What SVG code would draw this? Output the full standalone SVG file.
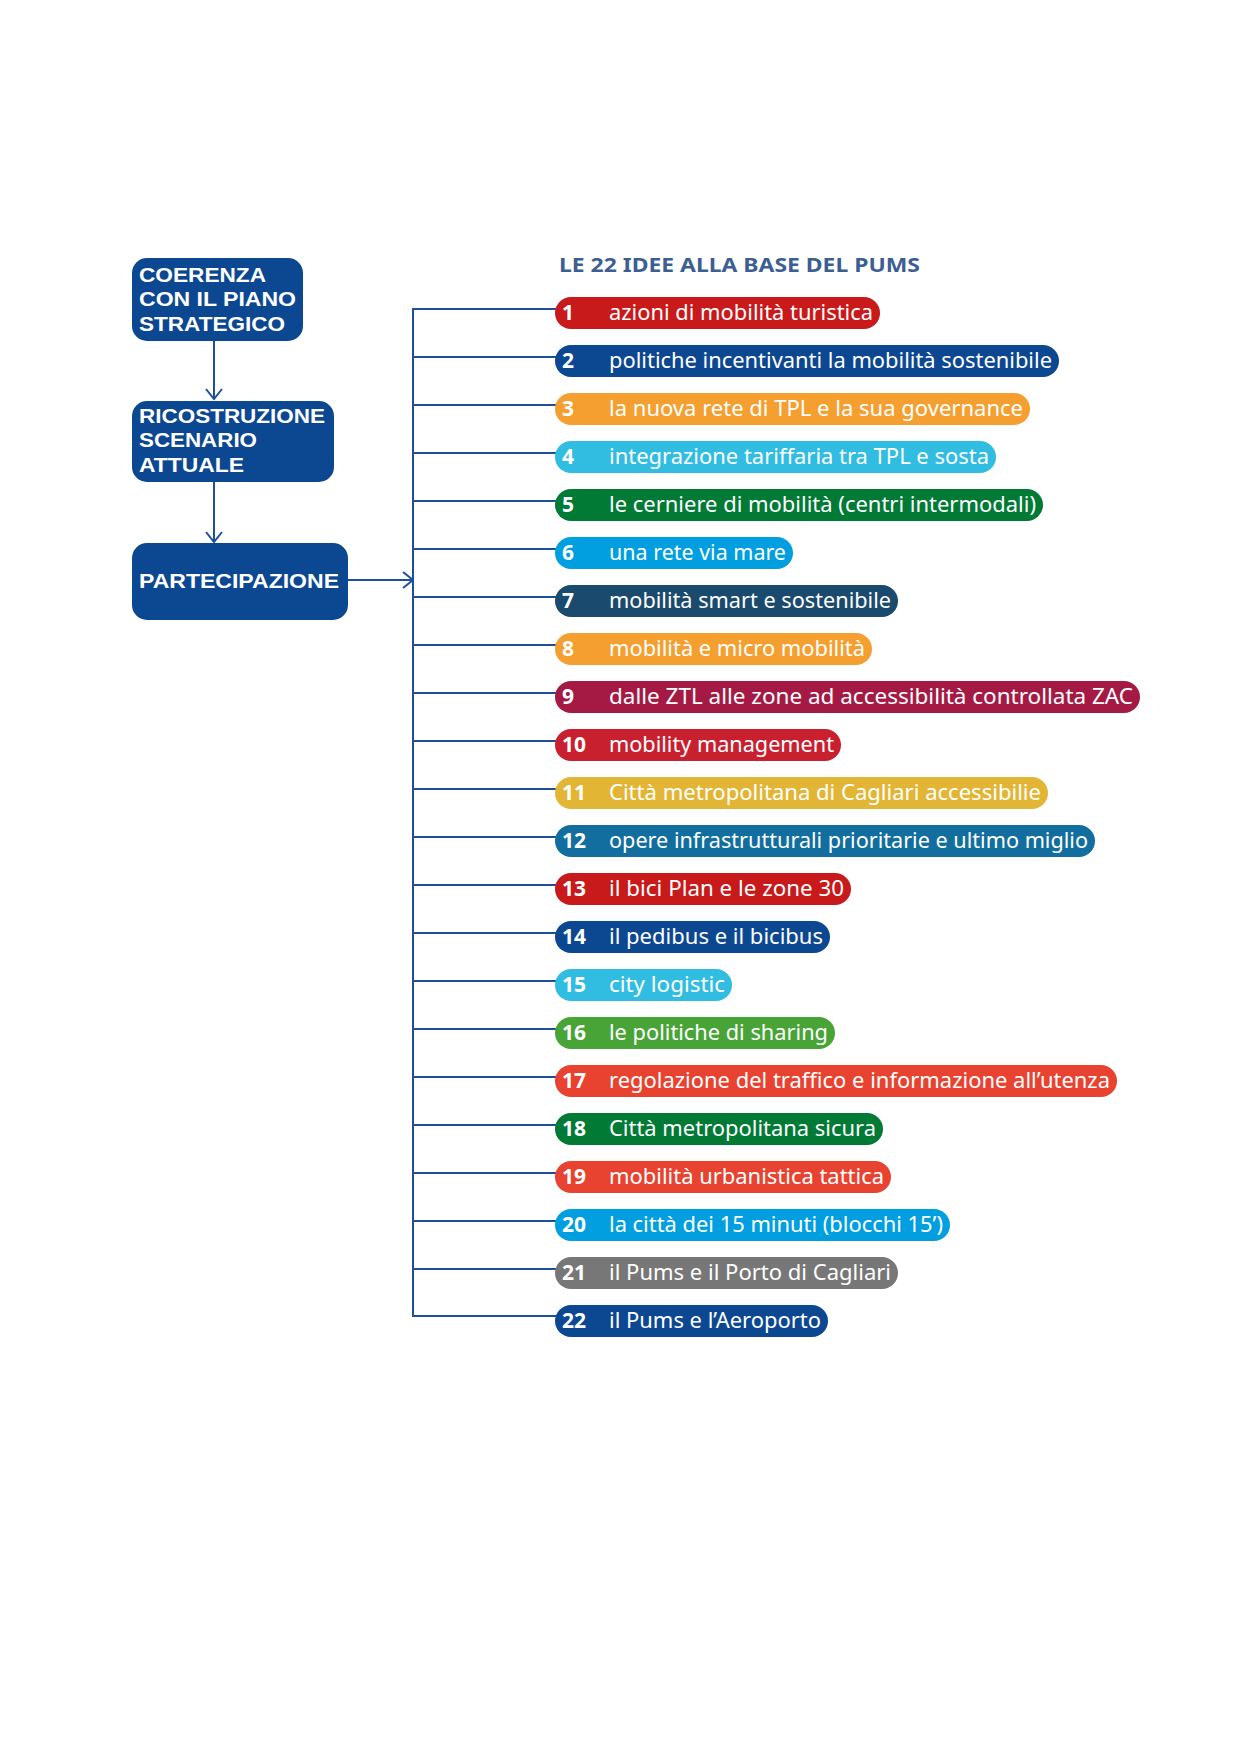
<svg xmlns="http://www.w3.org/2000/svg" width="1240" height="1754" viewBox="0 0 1240 1754">
<style>
.box{fill:#0c4892}
.bt{font-family:"Liberation Sans",Arial,sans-serif;font-weight:bold;font-size:21px;fill:#ffffff}
.title{font-family:"Noto Sans","Liberation Sans",sans-serif;font-weight:bold;font-size:20px;fill:#3c5e93}
.num{font-family:"Noto Sans","Liberation Sans",sans-serif;font-weight:bold;font-size:21px;fill:#ffffff}
.lab{font-family:"Noto Sans","Liberation Sans",sans-serif;font-size:21px;fill:#ffffff}
.con{stroke:#1d4f9c;stroke-width:2;fill:none}
</style>
<defs>
<marker id="arr" viewBox="0 0 12 18" refX="11" refY="9" markerWidth="12" markerHeight="18" markerUnits="userSpaceOnUse" orient="auto">
<path d="M1,1 L11,9 L1,17" fill="none" stroke="#1d4f9c" stroke-width="2"/>
</marker>
</defs>
<rect width="1240" height="1754" fill="#ffffff"/>

<g id="connectors">
<line class="con" x1="214" y1="341" x2="214" y2="399" marker-end="url(#arr)"/>
<line class="con" x1="214" y1="482" x2="214" y2="542" marker-end="url(#arr)"/>
<line class="con" x1="348" y1="580" x2="413" y2="580" marker-end="url(#arr)"/>
<path class="con" d="M556,309 H413 V1316 H556"/>
<path class="con" d="M413,357 H556 M413,405 H556 M413,453 H556 M413,501 H556 M413,549 H556 M413,597 H556 M413,645 H556 M413,693 H556 M413,741 H556 M413,789 H556 M413,837 H556 M413,885 H556 M413,933 H556 M413,981 H556 M413,1029 H556 M413,1077 H556 M413,1125 H556 M413,1173 H556 M413,1221 H556 M413,1269 H556"/>
</g>

<g id="node-coerenza">
<rect class="box" x="132" y="258" width="171" height="83" rx="15"/>
<text class="bt" x="139" y="282" textLength="127" lengthAdjust="spacingAndGlyphs">COERENZA</text>
<text class="bt" x="139" y="306" textLength="157" lengthAdjust="spacingAndGlyphs">CON IL PIANO</text>
<text class="bt" x="139" y="331" textLength="146" lengthAdjust="spacingAndGlyphs">STRATEGICO</text>
</g>

<g id="node-ricostruzione">
<rect class="box" x="132" y="401" width="202" height="81" rx="15"/>
<text class="bt" x="139" y="423" textLength="186" lengthAdjust="spacingAndGlyphs">RICOSTRUZIONE</text>
<text class="bt" x="139" y="447" textLength="118" lengthAdjust="spacingAndGlyphs">SCENARIO</text>
<text class="bt" x="139" y="472" textLength="105" lengthAdjust="spacingAndGlyphs">ATTUALE</text>
</g>

<g id="node-partecipazione">
<rect class="box" x="132" y="543" width="216" height="77" rx="15"/>
<text class="bt" x="139" y="588" textLength="200" lengthAdjust="spacingAndGlyphs">PARTECIPAZIONE</text>
</g>

<g id="title">
<text class="title" x="559" y="272" textLength="361" lengthAdjust="spacingAndGlyphs">LE 22 IDEE ALLA BASE DEL PUMS</text>
</g>

<g id="idea-1"><rect x="555" y="297" width="325" height="32" rx="16" fill="#c8191b"/><text class="num" x="562" y="320">1</text><text class="lab" x="609" y="320" textLength="264" lengthAdjust="spacingAndGlyphs">azioni di mobilità turistica</text></g>
<g id="idea-2"><rect x="555" y="345" width="504" height="32" rx="16" fill="#0c4892"/><text class="num" x="562" y="368">2</text><text class="lab" x="609" y="368" textLength="443" lengthAdjust="spacingAndGlyphs">politiche incentivanti la mobilità sostenibile</text></g>
<g id="idea-3"><rect x="555" y="393" width="475" height="32" rx="16" fill="#f49f30"/><text class="num" x="562" y="416">3</text><text class="lab" x="609" y="416" textLength="414" lengthAdjust="spacingAndGlyphs">la nuova rete di TPL e la sua governance</text></g>
<g id="idea-4"><rect x="555" y="441" width="441" height="32" rx="16" fill="#31bce2"/><text class="num" x="562" y="464">4</text><text class="lab" x="609" y="464" textLength="380" lengthAdjust="spacingAndGlyphs">integrazione tariffaria tra TPL e sosta</text></g>
<g id="idea-5"><rect x="555" y="489" width="488" height="32" rx="16" fill="#007a35"/><text class="num" x="562" y="512">5</text><text class="lab" x="609" y="512" textLength="427" lengthAdjust="spacingAndGlyphs">le cerniere di mobilità (centri intermodali)</text></g>
<g id="idea-6"><rect x="555" y="537" width="238" height="32" rx="16" fill="#019fe0"/><text class="num" x="562" y="560">6</text><text class="lab" x="609" y="560" textLength="177" lengthAdjust="spacingAndGlyphs">una rete via mare</text></g>
<g id="idea-7"><rect x="555" y="585" width="343" height="32" rx="16" fill="#1a4a6d"/><text class="num" x="562" y="608">7</text><text class="lab" x="609" y="608" textLength="282" lengthAdjust="spacingAndGlyphs">mobilità smart e sostenibile</text></g>
<g id="idea-8"><rect x="555" y="633" width="317" height="32" rx="16" fill="#f49f30"/><text class="num" x="562" y="656">8</text><text class="lab" x="609" y="656" textLength="256" lengthAdjust="spacingAndGlyphs">mobilità e micro mobilità</text></g>
<g id="idea-9"><rect x="555" y="681" width="585" height="32" rx="16" fill="#a41a45"/><text class="num" x="562" y="704">9</text><text class="lab" x="609" y="704" textLength="524" lengthAdjust="spacingAndGlyphs">dalle ZTL alle zone ad accessibilità controllata ZAC</text></g>
<g id="idea-10"><rect x="555" y="729" width="286" height="32" rx="16" fill="#c9202f"/><text class="num" x="562" y="752">10</text><text class="lab" x="609" y="752" textLength="225" lengthAdjust="spacingAndGlyphs">mobility management</text></g>
<g id="idea-11"><rect x="555" y="777" width="493" height="32" rx="16" fill="#e3b535"/><text class="num" x="562" y="800">11</text><text class="lab" x="609" y="800" textLength="432" lengthAdjust="spacingAndGlyphs">Città metropolitana di Cagliari accessibilie</text></g>
<g id="idea-12"><rect x="555" y="825" width="540" height="32" rx="16" fill="#126e9f"/><text class="num" x="562" y="848">12</text><text class="lab" x="609" y="848" textLength="479" lengthAdjust="spacingAndGlyphs">opere infrastrutturali prioritarie e ultimo miglio</text></g>
<g id="idea-13"><rect x="555" y="873" width="296" height="32" rx="16" fill="#c8191b"/><text class="num" x="562" y="896">13</text><text class="lab" x="609" y="896" textLength="235" lengthAdjust="spacingAndGlyphs">il bici Plan e le zone 30</text></g>
<g id="idea-14"><rect x="555" y="921" width="275" height="32" rx="16" fill="#0c4892"/><text class="num" x="562" y="944">14</text><text class="lab" x="609" y="944" textLength="214" lengthAdjust="spacingAndGlyphs">il pedibus e il bicibus</text></g>
<g id="idea-15"><rect x="555" y="969" width="177" height="32" rx="16" fill="#31bce2"/><text class="num" x="562" y="992">15</text><text class="lab" x="609" y="992" textLength="116" lengthAdjust="spacingAndGlyphs">city logistic</text></g>
<g id="idea-16"><rect x="555" y="1017" width="280" height="32" rx="16" fill="#48a436"/><text class="num" x="562" y="1040">16</text><text class="lab" x="609" y="1040" textLength="219" lengthAdjust="spacingAndGlyphs">le politiche di sharing</text></g>
<g id="idea-17"><rect x="555" y="1065" width="562" height="32" rx="16" fill="#e84330"/><text class="num" x="562" y="1088">17</text><text class="lab" x="609" y="1088" textLength="501" lengthAdjust="spacingAndGlyphs">regolazione del traffico e informazione all’utenza</text></g>
<g id="idea-18"><rect x="555" y="1113" width="328" height="32" rx="16" fill="#007a35"/><text class="num" x="562" y="1136">18</text><text class="lab" x="609" y="1136" textLength="267" lengthAdjust="spacingAndGlyphs">Città metropolitana sicura</text></g>
<g id="idea-19"><rect x="555" y="1161" width="336" height="32" rx="16" fill="#e84330"/><text class="num" x="562" y="1184">19</text><text class="lab" x="609" y="1184" textLength="275" lengthAdjust="spacingAndGlyphs">mobilità urbanistica tattica</text></g>
<g id="idea-20"><rect x="555" y="1209" width="395" height="32" rx="16" fill="#019fe0"/><text class="num" x="562" y="1232">20</text><text class="lab" x="609" y="1232" textLength="334" lengthAdjust="spacingAndGlyphs">la città dei 15 minuti (blocchi 15’)</text></g>
<g id="idea-21"><rect x="555" y="1257" width="343" height="32" rx="16" fill="#777777"/><text class="num" x="562" y="1280">21</text><text class="lab" x="609" y="1280" textLength="282" lengthAdjust="spacingAndGlyphs">il Pums e il Porto di Cagliari</text></g>
<g id="idea-22"><rect x="555" y="1305" width="273" height="32" rx="16" fill="#0c4892"/><text class="num" x="562" y="1328">22</text><text class="lab" x="609" y="1328" textLength="212" lengthAdjust="spacingAndGlyphs">il Pums e l’Aeroporto</text></g>
</svg>
